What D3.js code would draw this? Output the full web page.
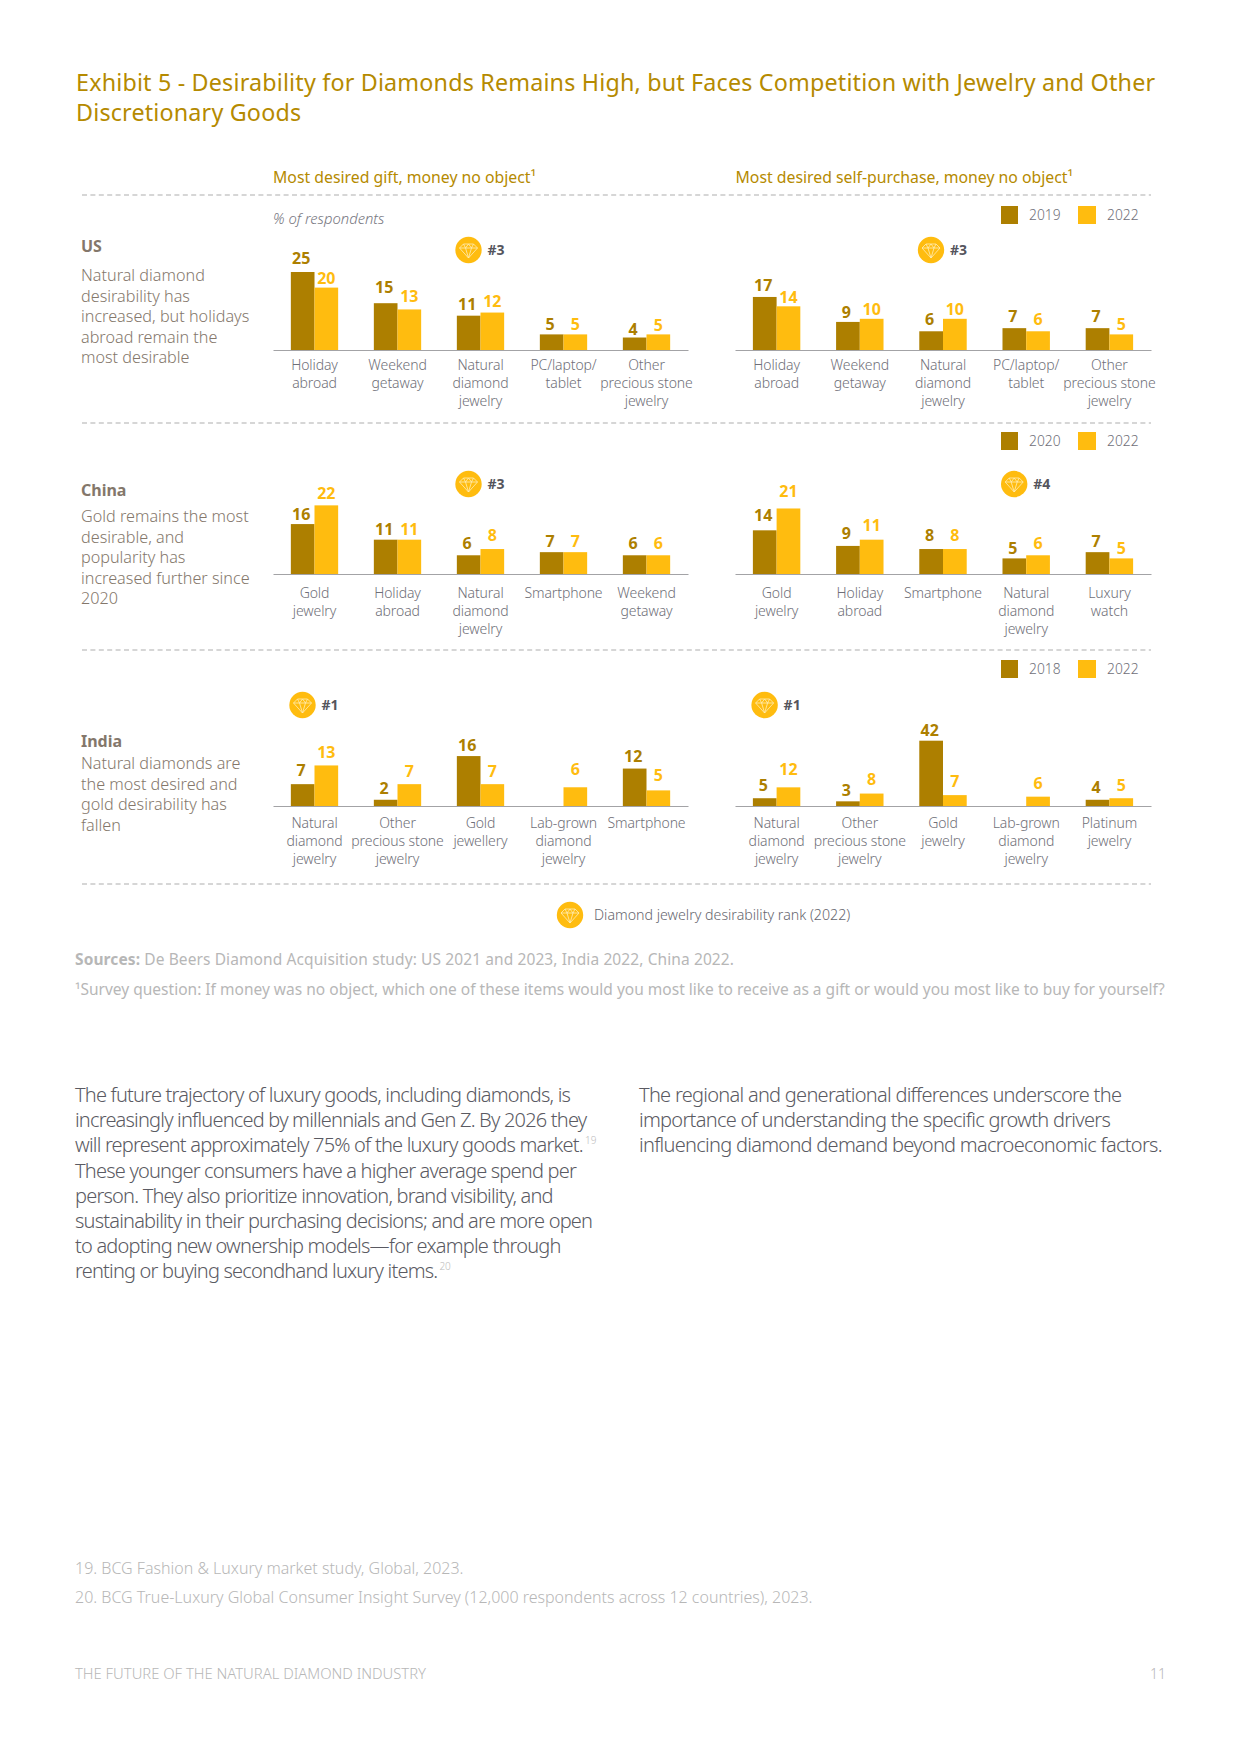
<!DOCTYPE html>
<html lang="en">
<head>
<meta charset="UTF-8" />
<title>Exhibit 5</title>
<style>
	body { margin: 0; background: #fff; }
	svg { display: block; }
	text { font-family: "Noto Sans", sans-serif; }
</style>
</head>
<body>
<svg id="chart" width="1240" height="1754"></svg>
<script src="https://d3js.org/d3.v7.min.js"></script>
<script>
// Data
const usGiftCategories = ['Holiday\nabroad', 'Weekend\ngetaway', 'Natural\ndiamond\njewelry', 'PC/laptop/\ntablet', 'Other\nprecious stone\njewelry'];
const usGift2019 = [25, 15, 11, 5, 4];
const usGift2022 = [20, 13, 12, 5, 5];
const usSelfCategories = ['Holiday\nabroad', 'Weekend\ngetaway', 'Natural\ndiamond\njewelry', 'PC/laptop/\ntablet', 'Other\nprecious stone\njewelry'];
const usSelf2019 = [17, 9, 6, 7, 7];
const usSelf2022 = [14, 10, 10, 6, 5];

const chinaGiftCategories = ['Gold\njewelry', 'Holiday\nabroad', 'Natural\ndiamond\njewelry', 'Smartphone', 'Weekend\ngetaway'];
const chinaGift2020 = [16, 11, 6, 7, 6];
const chinaGift2022 = [22, 11, 8, 7, 6];
const chinaSelfCategories = ['Gold\njewelry', 'Holiday\nabroad', 'Smartphone', 'Natural\ndiamond\njewelry', 'Luxury\nwatch'];
const chinaSelf2020 = [14, 9, 8, 5, 7];
const chinaSelf2022 = [21, 11, 8, 6, 5];

const indiaGiftCategories = ['Natural\ndiamond\njewelry', 'Other\nprecious stone\njewelry', 'Gold\njewellery', 'Lab-grown\ndiamond\njewelry', 'Smartphone'];
const indiaGift2018 = [7, 2, 16, null, 12];
const indiaGift2022 = [13, 7, 7, 6, 5];
const indiaSelfCategories = ['Natural\ndiamond\njewelry', 'Other\nprecious stone\njewelry', 'Gold\njewelry', 'Lab-grown\ndiamond\njewelry', 'Platinum\njewelry'];
const indiaSelf2018 = [5, 3, 42, null, 4];
const indiaSelf2022 = [12, 8, 7, 6, 5];

const titleLines = ['Exhibit 5 - Desirability for Diamonds Remains High, but Faces Competition with Jewelry and Other', 'Discretionary Goods'];
const usNote = ['Natural diamond', 'desirability has', 'increased, but holidays', 'abroad remain the', 'most desirable'];
const chinaNote = ['Gold remains the most', 'desirable, and', 'popularity has', 'increased further since', '2020'];
const indiaNote = ['Natural diamonds are', 'the most desired and', 'gold desirability has', 'fallen'];
const bodyLeft = [
	'The future trajectory of luxury goods, including diamonds, is',
	'increasingly influenced by millennials and Gen Z. By 2026 they',
	'will represent approximately 75% of the luxury goods market.|19',
	'These younger consumers have a higher average spend per',
	'person. They also prioritize innovation, brand visibility, and',
	'sustainability in their purchasing decisions; and are more open',
	'to adopting new ownership models\u2014for example through',
	'renting or buying secondhand luxury items.|20'
];
const bodyRight = [
	'The regional and generational differences underscore the',
	'importance of understanding the specific growth drivers',
	'influencing diamond demand beyond macroeconomic factors.'
];

// Styling
const dark = '#ad7f00';
const gold = '#ffbc0f';
const titleGold = '#b58a00';
const noteCol = '#84776b';
const tickCol = '#6f6f78';
const paleCol = '#b7b7b7';

// gap between a bar top and its value label, read per label
const gaps = {
	usGift: [[8, 10, 6, 4, 3], [4, 7, 6, 4, 3]],
	usSelf: [[6, 4, 6, 6, 6], [3, 4, 4, 6, 4]],
	chinaGift: [[4, 5, 6, 5, 6], [6, 5, 8, 5, 6]],
	chinaSelf: [[9, 7, 8, 4, 5], [11, 9, 8, 6, 4]],
	indiaGift: [[8, 6, 5, 0, 7], [7, 7, 7, 12, 9]],
	indiaSelf: [[7, 5, 5, 0, 7], [12, 9, 8, 8, 7]]
};

const left = [273, 688];
const right = [735, 1151];
const unitScale = d3.scaleLinear().domain([0, 25]).range([0, 78]);
const indiaSelfScale = d3.scaleLinear().domain([0, 42]).range([0, 65.3]);

const panels = [
	{ range: left, base: 350, tick: 20, cats: usGiftCategories, a: usGift2019, b: usGift2022, gaps: gaps.usGift, rank: 2, rankText: '#3', rankY: 250, h: unitScale },
	{ range: right, base: 350, tick: 20, cats: usSelfCategories, a: usSelf2019, b: usSelf2022, gaps: gaps.usSelf, rank: 2, rankText: '#3', rankY: 250, h: unitScale },
	{ range: left, base: 574, tick: 24, cats: chinaGiftCategories, a: chinaGift2020, b: chinaGift2022, gaps: gaps.chinaGift, rank: 2, rankText: '#3', rankY: 484, h: unitScale },
	{ range: right, base: 574, tick: 24, cats: chinaSelfCategories, a: chinaSelf2020, b: chinaSelf2022, gaps: gaps.chinaSelf, rank: 3, rankText: '#4', rankY: 484, h: unitScale },
	{ range: left, base: 806, tick: 22, cats: indiaGiftCategories, a: indiaGift2018, b: indiaGift2022, gaps: gaps.indiaGift, rank: 0, rankText: '#1', rankY: 705, h: unitScale },
	{ range: right, base: 806, tick: 22, cats: indiaSelfCategories, a: indiaSelf2018, b: indiaSelf2022, gaps: gaps.indiaSelf, rank: 0, rankText: '#1', rankY: 705, h: indiaSelfScale }
];

const svg = d3.select('#chart');

function addText(x, y, str, size, fill, opts = {}) {
	return svg.append('text')
		.attr('x', x)
		.attr('y', y)
		.attr('font-size', size)
		.attr('fill', fill)
		.attr('font-weight', opts.weight || 400)
		.attr('font-style', opts.style || 'normal')
		.attr('letter-spacing', opts.spacing || 0)
		.attr('text-anchor', opts.anchor || 'start')
		.text(str);
}

function diamond(cx, cy) {
	const g = svg.append('g').attr('transform', `translate(${cx},${cy})`);
	g.append('circle').attr('r', 13.2).attr('fill', gold);
	g.append('path')
		.attr('d', 'M-5-6H5L9-2 0 8-9-2ZM-9-2H9M-5-6-3-2 0 8 3-2 5-6M-3-2 0-6 3-2')
		.attr('fill', 'none')
		.attr('stroke', '#ffedb8')
		.attr('stroke-width', 0.8);
}

// dashed separators
[195, 423, 650, 884].forEach((y) => {
	svg.append('line')
		.attr('x1', 82).attr('x2', 1151)
		.attr('y1', y).attr('y2', y)
		.attr('stroke', '#adadad')
		.attr('stroke-dasharray', '5 3.4');
});

// headings
titleLines.forEach((t, i) => addText(76, [91, 121][i], t, 23.3, titleGold, { spacing: 0.18 }));
addText(273, 183, 'Most desired gift, money no object\u00b9', 15.8, titleGold);
addText(735.5, 183, 'Most desired self-purchase, money no object\u00b9', 15.8, titleGold);
addText(273, 224, '% of respondents', 14.8, '#77777f', { style: 'italic', weight: 300 });

// row notes
addText(81, 252, 'US', 16, noteCol, { weight: 700 });
usNote.forEach((t, i) => addText(81, 281 + i * 20.5, t, 16.2, noteCol, { weight: 300 }));
addText(81, 496, 'China', 16, noteCol, { weight: 700 });
chinaNote.forEach((t, i) => addText(81, 522 + i * 20.5, t, 16.2, noteCol, { weight: 300 }));
addText(81, 746.5, 'India', 16, noteCol, { weight: 700 });
indiaNote.forEach((t, i) => addText(81, 769 + i * 20.5, t, 16.2, noteCol, { weight: 300 }));

// legends
[[212, '2019'], [438, '2020'], [666, '2018']].forEach(([y, year]) => {
	svg.append('rect').attr('x', 1001).attr('y', y - 6).attr('width', 17).attr('height', 18).attr('fill', dark);
	addText(1029, y + 7.5, year, 13.8, tickCol, { weight: 300 });
	svg.append('rect').attr('x', 1078).attr('y', y - 6).attr('width', 18).attr('height', 18).attr('fill', gold);
	addText(1107, y + 7.5, '2022', 13.8, tickCol, { weight: 300 });
});

// panels
panels.forEach((p) => {
	const x = d3.scaleBand()
		.domain(p.cats.map((c, i) => i))
		.range(p.range)
		.paddingInner(0.43)
		.paddingOuter(0.215);
	const inner = d3.scaleBand().domain([0, 1]).range([0, x.bandwidth()]);
	const axis = d3.axisBottom(x).tickSize(0).tickFormat('');

	const ax = svg.append('g')
		.attr('transform', `translate(0,${p.base})`)
		.call(axis);
	ax.select('.domain').attr('stroke', '#a3a3a6').attr('stroke-width', 1.2);
	ax.selectAll('.tick text').remove();
	ax.selectAll('.tick').append('text')
		.attr('text-anchor', 'middle')
		.attr('font-size', 14)
		.attr('font-weight', 300)
		.attr('letter-spacing', -0.1)
		.attr('fill', tickCol)
		.selectAll('tspan')
		.data((i) => p.cats[i].split('\n'))
		.join('tspan')
		.attr('x', 0)
		.attr('y', (d, i) => p.tick + i * 17.8)
		.text((d) => d);

	[p.a, p.b].forEach((vals, s) => {
		const fill = s === 0 ? dark : gold;
		vals.forEach((v, i) => {
			if (v === null) return;
			const bx = x(i) + inner(s);
			const top = p.base - p.h(v);
			svg.append('rect')
				.attr('x', bx)
				.attr('y', top)
				.attr('width', inner.bandwidth())
				.attr('height', p.h(v))
				.attr('fill', fill);
			addText(bx + inner.bandwidth() / 2 - (s === 0 ? 1.5 : 0), top - p.gaps[s][i], v, 16, fill, { weight: 700, anchor: 'middle' });
		});
	});

	const cx = x(p.rank) + x.bandwidth() / 2 - 12;
	diamond(cx, p.rankY);
	addText(cx + 19, p.rankY + 5, p.rankText, 14, '#55555d', { weight: 700 });
});

// rank legend
diamond(570, 915);
addText(594, 920, 'Diamond jewelry desirability rank (2022)', 14.2, '#66666e', { weight: 300 });

// sources
const src = addText(75, 964.5, '', 15.5, paleCol, { spacing: 0.1 });
src.append('tspan').attr('font-weight', 700).text('Sources:');
src.append('tspan').text(' De Beers Diamond Acquisition study: US 2021 and 2023, India 2022, China 2022.');
addText(75, 994.5, '\u00b9Survey question: If money was no object, which one of these items would you most like to receive as a gift or would you most like to buy for yourself?', 15.5, paleCol, { spacing: 0.01 });

// body copy
function bodyLine(x, y, line, spacing) {
	const [main, sup] = line.split('|');
	const t = addText(x, y, main, 20, '#5a5a62', { spacing: spacing, weight: 300 });
	if (sup) {
		t.append('tspan').attr('dy', -8).attr('dx', 2).attr('font-size', 10).attr('fill', '#bdbdbd').attr('letter-spacing', 0).text(sup);
	}
}
bodyLeft.forEach((l, i) => bodyLine(75, 1102 + i * 25.2, l, -0.8));
bodyRight.forEach((l, i) => bodyLine(639, 1102 + i * 25.2, l, -0.72));

// page foot
addText(75, 1573.5, '19. BCG Fashion & Luxury market study, Global, 2023.', 16, paleCol, { weight: 300 });
addText(75, 1602.5, '20. BCG True-Luxury Global Consumer Insight Survey (12,000 respondents across 12 countries), 2023.', 16, paleCol, { weight: 300 });
addText(75, 1679, 'THE FUTURE OF THE NATURAL DIAMOND INDUSTRY', 14.8, paleCol, { weight: 300 });
addText(1166, 1679, '11', 14, paleCol, { anchor: 'end', weight: 300 });
</script>
</body>
</html>
